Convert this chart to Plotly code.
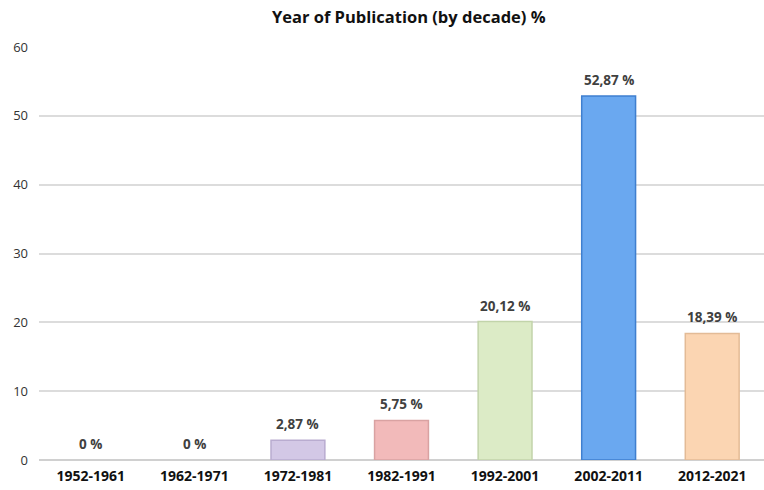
import plotly.graph_objects as go

categories = ["1952-1961", "1962-1971", "1972-1981", "1982-1991", "1992-2001", "2002-2011", "2012-2021"]
values = [0, 0, 2.87, 5.75, 20.12, 52.87, 18.39]
labels = ["0 %", "0 %", "2,87 %", "5,75 %", "20,12 %", "52,87 %", "18,39 %"]

colors = ["#cfc3e3", "#cfc3e3", "#d3c8e6", "#f2baba", "#dcebc6", "#6aa8f0", "#fbd5b2"]
edge_colors = ["#b9acd0", "#b9acd0", "#b9acd0", "#d9a2a2", "#c2d4aa", "#3f7fcf", "#e3bb96"]
edge_widths = [0 if v == 0 else 1.5 for v in values]

fig = go.Figure(go.Bar(
    x=categories, y=values,
    marker=dict(color=colors, line=dict(color=edge_colors, width=edge_widths)),
    width=0.52, cliponaxis=False,
))

for c, v, t in zip(categories, values, labels):
    fig.add_annotation(x=c, y=v, text=t, showarrow=False, yanchor="bottom", yshift=5,
                       font=dict(family="Open Sans", size=13.5, color="#404040", weight="bold"))

fig.update_layout(
    width=764, height=490,
    margin=dict(l=39, r=0, t=47, b=30),
    paper_bgcolor="white", plot_bgcolor="white",
    title=dict(text="Year of Publication (by decade) %", x=0.535, xanchor="center", y=0.965, yanchor="middle",
               font=dict(family="Open Sans", size=16.5, color="#111111", weight="bold")),
    showlegend=False,
)
fig.update_xaxes(range=[-0.5, 6.5], showgrid=False, showline=False, ticks="",
                 tickfont=dict(family="Open Sans", size=14, color="#111111", weight="bold"),
                 ticklabelstandoff=6)
fig.update_yaxes(range=[0, 60], dtick=10, showgrid=True, gridcolor="#dcdcdc", gridwidth=1.5,
                 zeroline=True, zerolinecolor="#d0d0d0", zerolinewidth=1.5,
                 tickfont=dict(family="Open Sans", size=13, color="#333333"), ticklabelstandoff=10)

fig.write_html("out.html")
